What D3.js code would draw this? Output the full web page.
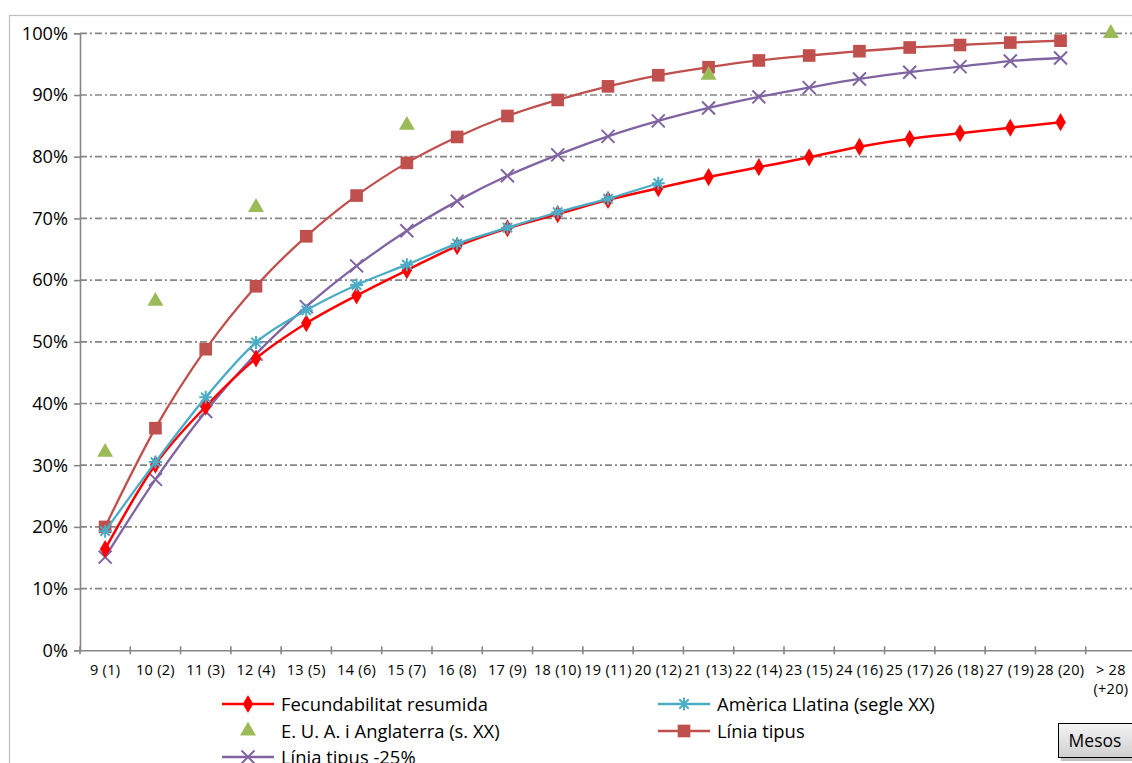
<!DOCTYPE html>
<html><head><meta charset="utf-8">
<script src="https://cdn.jsdelivr.net/npm/d3@7"></script>
<style>
body{margin:0;background:#fff;overflow:hidden}
svg{display:block;font-family:"Open Sans",sans-serif}
</style></head>
<body>
<svg id="chart" width="1132" height="763"></svg>
<script>
const categories = ["9 (1)","10 (2)","11 (3)","12 (4)","13 (5)","14 (6)","15 (7)","16 (8)","17 (9)","18 (10)","19 (11)","20 (12)","21 (13)","22 (14)","23 (15)","24 (16)","25 (17)","26 (18)","27 (19)","28 (20)","> 28|(+20)"];
const fecundabilitat = [16.4,30.1,39.5,47.3,53.0,57.5,61.6,65.5,68.4,70.7,73.0,74.9,76.7,78.3,79.9,81.6,82.9,83.8,84.7,85.6];
const americaLlatina = [19.3,30.5,41.0,49.9,55.1,59.2,62.5,65.9,68.5,71.0,73.2,75.7];
const euaIdx = [0,1,3,6,12,20];
const euaVals = [32.1,56.6,71.8,85.1,93.2,100];
const liniaTipus = [20.0,36.0,48.8,59.0,67.1,73.7,79.0,83.2,86.6,89.2,91.4,93.2,94.5,95.6,96.4,97.1,97.7,98.1,98.5,98.8];
const liniaTipus25 = [15.1,27.7,38.7,48.0,55.7,62.3,68.0,72.8,76.9,80.3,83.3,85.8,87.9,89.7,91.2,92.6,93.7,94.6,95.5,96.0];
const yTicks = [0,10,20,30,40,50,60,70,80,90,100];

const svg = d3.select("#chart");
const x = d3.scaleBand().domain(d3.range(categories.length)).range([80,1136]).paddingInner(0).paddingOuter(0);
const xc = i => x(i) + x.bandwidth()/2;
const y = d3.scaleLinear().domain([0,100]).range([650.3,33.3]);

// outer border
svg.append("rect").attr("x",9.5).attr("y",15.5).attr("width",1140).attr("height",780)
  .attr("fill","#fff").attr("stroke","#bfbfbf").attr("stroke-width",1.2);

// gridlines
svg.append("g").selectAll("line").data(yTicks.filter(d=>d>0)).join("line")
  .attr("x1",80).attr("x2",1136).attr("y1",d=>y(d)).attr("y2",d=>y(d))
  .attr("stroke","#868686").attr("stroke-width",1.7).attr("stroke-dasharray","7,3,2,3");

// y axis
const yAxis = svg.append("g").attr("transform","translate(80,0)")
  .call(d3.axisLeft(y).tickValues(yTicks).tickFormat(d=>d+"%").tickSize(6).tickPadding(6));
yAxis.select(".domain").attr("stroke","#868686").attr("stroke-width",1.6);
yAxis.selectAll(".tick line").attr("stroke","#868686").attr("stroke-width",1.6);
yAxis.selectAll(".tick text").attr("font-size",18.2).attr("fill","#000").attr("font-family","'Open Sans',sans-serif");

// x axis
const xAxis = svg.append("g").attr("transform",`translate(0,${y(0)})`)
  .call(d3.axisBottom(x).tickSize(0).tickFormat(""));
xAxis.select(".domain").attr("stroke","#868686").attr("stroke-width",1.6);
svg.append("g").selectAll("line").data(d3.range(categories.length+1)).join("line")
  .attr("x1",i=>80+i*x.step()).attr("x2",i=>80+i*x.step())
  .attr("y1",y(0)-4).attr("y2",y(0)+4).attr("stroke","#868686").attr("stroke-width",1.6);
const xl = svg.append("g").selectAll("text").data(categories).join("text")
  .attr("x",(d,i)=>xc(i)).attr("y",y(0)+25).attr("text-anchor","middle")
  .attr("font-size",14.5).attr("letter-spacing",0.3).attr("fill","#000");
xl.each(function(d){
  const parts = d.split("|");
  const t = d3.select(this);
  parts.forEach((p,k)=>t.append("tspan").attr("x",t.attr("x")).attr("dy",k?19:0).text(p));
});

const line = d3.line().x((d,i)=>xc(i)).y(d=>y(d)).curve(d3.curveCardinal);

const diamond = d3.symbol().type(d3.symbolDiamond).size(95);
const square = d3.symbol().type(d3.symbolSquare).size(160);
const triangle = d3.symbol().type(d3.symbolTriangle).size(110);

function xMark(g,cx,cy,r,color,w){
  g.append("path").attr("d",`M${cx-r},${cy-r}L${cx+r},${cy+r}M${cx-r},${cy+r}L${cx+r},${cy-r}`)
   .attr("stroke",color).attr("stroke-width",w).attr("fill","none");
}
function star(g,cx,cy,r,color,w){
  const s = r*0.72;
  g.append("path").attr("d",`M${cx-r},${cy}L${cx+r},${cy}M${cx-s},${cy-s}L${cx+s},${cy+s}M${cx-s},${cy+s}L${cx+s},${cy-s}M${cx},${cy-r}L${cx},${cy+r}`)
   .attr("stroke",color).attr("stroke-width",w).attr("fill","none");
}

const cRed="#ff0000", cCyan="#4bacc6", cGreen="#9bbb59", cBrown="#c0504d", cPurple="#8064a2";

// Línia tipus
svg.append("path").datum(liniaTipus).attr("d",line).attr("fill","none").attr("stroke",cBrown).attr("stroke-width",2.3);
svg.append("g").selectAll("path").data(liniaTipus).join("path")
  .attr("d",square).attr("transform",(d,i)=>`translate(${xc(i)},${y(d)})`).attr("fill",cBrown);

// Línia tipus -25%
svg.append("path").datum(liniaTipus25).attr("d",line).attr("fill","none").attr("stroke",cPurple).attr("stroke-width",2.3);
const gp = svg.append("g");
liniaTipus25.forEach((d,i)=>xMark(gp,xc(i),y(d),6.5,cPurple,2));

// Fecundabilitat
svg.append("path").datum(fecundabilitat).attr("d",line).attr("fill","none").attr("stroke",cRed).attr("stroke-width",2.5);
svg.append("g").selectAll("path").data(fecundabilitat).join("path")
  .attr("d",diamond).attr("transform",(d,i)=>`translate(${xc(i)},${y(d)})`).attr("fill",cRed);

// América Llatina
svg.append("path").datum(americaLlatina).attr("d",line).attr("fill","none").attr("stroke",cCyan).attr("stroke-width",2.3);
const gc = svg.append("g");
americaLlatina.forEach((d,i)=>star(gc,xc(i),y(d),6.5,cCyan,2));

// EUA
svg.append("g").selectAll("path").data(euaIdx).join("path")
  .attr("d",triangle).attr("transform",(d,k)=>`translate(${xc(d)},${y(euaVals[k])})`).attr("fill",cGreen);

// legend
const leg = svg.append("g").attr("font-size",18.4).attr("fill","#000");
function legItem(lx,ly,label,color,kind){
  const g = leg.append("g");
  if(kind!=="tri") g.append("line").attr("x1",lx).attr("x2",lx+52).attr("y1",ly).attr("y2",ly).attr("stroke",color).attr("stroke-width",2.5);
  const cx=lx+26;
  if(kind==="diamond") g.append("path").attr("d",diamond).attr("transform",`translate(${cx},${ly})`).attr("fill",color);
  if(kind==="square") g.append("path").attr("d",square).attr("transform",`translate(${cx},${ly})`).attr("fill",color);
  if(kind==="tri") g.append("path").attr("d",triangle).attr("transform",`translate(${cx},${ly})`).attr("fill",color);
  if(kind==="x") xMark(g,cx,ly,6.5,color,2);
  if(kind==="star") star(g,cx,ly,6.5,color,2);
  g.append("text").attr("x",lx+59).attr("y",ly+6.5).text(label);
}
legItem(222,704,"Fecundabilitat resumida",cRed,"diamond");
legItem(658,704,"Amèrica Llatina (segle XX)",cCyan,"star");
legItem(222,731,"E. U. A. i Anglaterra (s. XX)",cGreen,"tri");
legItem(658,731,"Línia tipus",cBrown,"square");
legItem(222,757,"Línia tipus -25%",cPurple,"x");

// Mesos box
const defs = svg.append("defs");
const gr = defs.append("linearGradient").attr("id","gb").attr("x1",0).attr("y1",0).attr("x2",0).attr("y2",1);
gr.append("stop").attr("offset","0").attr("stop-color","#f4f4f4");
gr.append("stop").attr("offset","1").attr("stop-color","#cfcfcf");
svg.append("rect").attr("x",1061).attr("y",726).attr("width",74).attr("height",35).attr("fill","#9a9a9a").attr("opacity",0.6);
svg.append("rect").attr("x",1058.5).attr("y",723.5).attr("width",74).attr("height",34).attr("fill","url(#gb)").attr("stroke","#000").attr("stroke-width",1);
svg.append("text").attr("x",1095).attr("y",747).attr("text-anchor","middle").attr("font-size",17.5).text("Mesos");
</script>
</body></html>
